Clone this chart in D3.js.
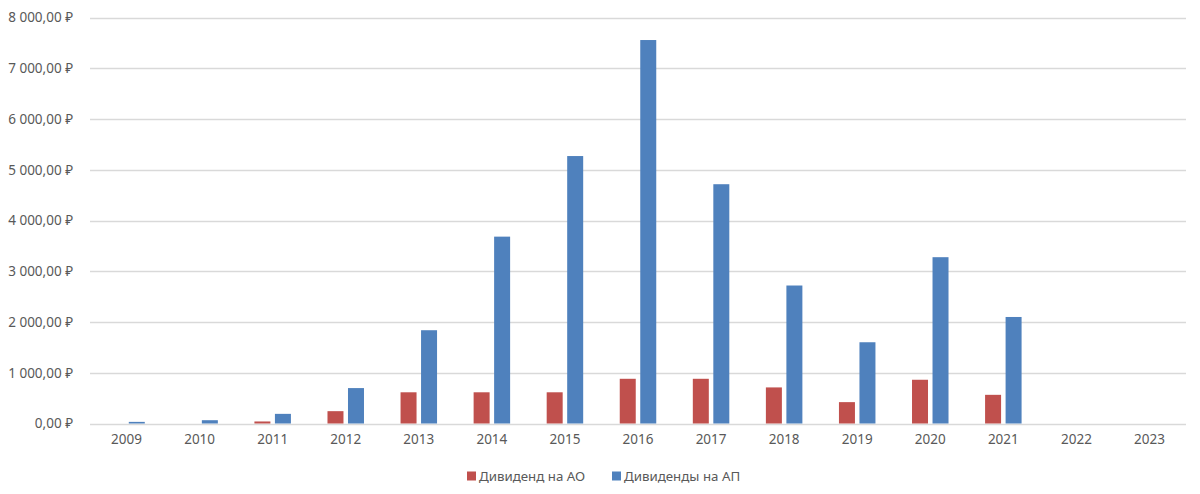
<!DOCTYPE html>
<html>
<head>
<meta charset="utf-8">
<script src="https://cdn.jsdelivr.net/npm/d3@7"></script>
<style>
  html, body { margin: 0; padding: 0; background: #fff; }
  svg { display: block; }
  text { font-family: "Noto Sans", "DejaVu Sans", sans-serif; fill: #595959; }
</style>
</head>
<body>
<svg id="chart" width="1200" height="494"></svg>
<script>
const years = ["2009","2010","2011","2012","2013","2014","2015","2016","2017","2018","2019","2020","2021","2022","2023"];
const seriesNames = ["Дивиденд на АО", "Дивиденды на АП"];
const divAO = [0, 0, 40, 243, 615, 615, 615, 881, 881, 711, 421, 862, 565, 0, 0];
const divAP = [32, 65, 190, 698, 1838, 3682, 5270, 7556, 4715, 2719, 1601, 3277, 2099, 0, 0];
const tickValues = [0, 1000, 2000, 3000, 4000, 5000, 6000, 7000, 8000];
const tickLabels = ["0,00 ₽", "1 000,00 ₽", "2 000,00 ₽", "3 000,00 ₽", "4 000,00 ₽", "5 000,00 ₽", "6 000,00 ₽", "7 000,00 ₽", "8 000,00 ₽"];
const colors = ["#C0504D", "#4F81BD"];

(function () {
const svg = d3.select("#chart");
const mLeft = 90, mRight = 1186, mTop = 17.5, mBottom = 423.5;

const x0 = d3.scaleBand().domain(years).range([mLeft, mRight]).padding(0);
const y = d3.scaleLinear().domain([0, 8000]).range([mBottom, mTop]);

// gridlines
svg.append("g").selectAll("line").data(tickValues).join("line")
  .attr("x1", mLeft).attr("x2", mRight)
  .attr("y1", d => Math.round(y(d)) + 0.5).attr("y2", d => Math.round(y(d)) + 0.5)
  .attr("stroke", "#D9D9D9").attr("stroke-width", 1.3);

// y axis labels
const yAxis = d3.axisLeft(y).tickValues(tickValues)
  .tickFormat((d, i) => tickLabels[i]).tickSize(0).tickPadding(0);
const gy = svg.append("g").attr("transform", `translate(73,0)`).call(yAxis);
gy.select(".domain").remove();
gy.selectAll("text").attr("font-size", "13.5px").style("font-family", '"Noto Sans", "DejaVu Sans", sans-serif').attr("fill", "#595959");

// x axis labels
const xAxis = d3.axisBottom(x0).tickSize(0).tickPadding(0);
const gx = svg.append("g").attr("transform", `translate(0,${mBottom + 10.5})`).call(xAxis);
gx.select(".domain").remove();
gx.selectAll("text").attr("font-size", "13.5px").style("font-family", '"Noto Sans", "DejaVu Sans", sans-serif').attr("fill", "#595959");

// bars
const data = years.map((yr, i) => ({ year: yr, values: [divAO[i], divAP[i]] }));
const x1 = d3.scaleBand().domain([0, 1]).range([0, 36.5]).paddingInner(0.22);
const groups = svg.append("g").selectAll("g").data(data).join("g")
  .attr("transform", d => `translate(${x0(d.year) + x0.bandwidth() / 2 - 18.25},0)`);
groups.selectAll("rect").data(d => d.values.map((v, k) => ({ v, k }))).join("rect")
  .attr("x", d => x1(d.k))
  .attr("width", x1.bandwidth())
  .attr("y", d => y(d.v))
  .attr("height", d => mBottom - y(d.v))
  .attr("fill", d => colors[d.k]);

// legend
const legend = svg.append("g");
const legendX = [467, 612];
seriesNames.forEach((name, k) => {
  const g = legend.append("g").attr("transform", `translate(${legendX[k]},476)`);
  g.append("rect").attr("x", 0).attr("y", -4.5).attr("width", 9).attr("height", 9).attr("fill", colors[k]);
  g.append("text").attr("x", 12).attr("y", 0).attr("dy", "0.35em").attr("font-size", "13.3px").text(name);
});
})();
</script>
</body>
</html>
